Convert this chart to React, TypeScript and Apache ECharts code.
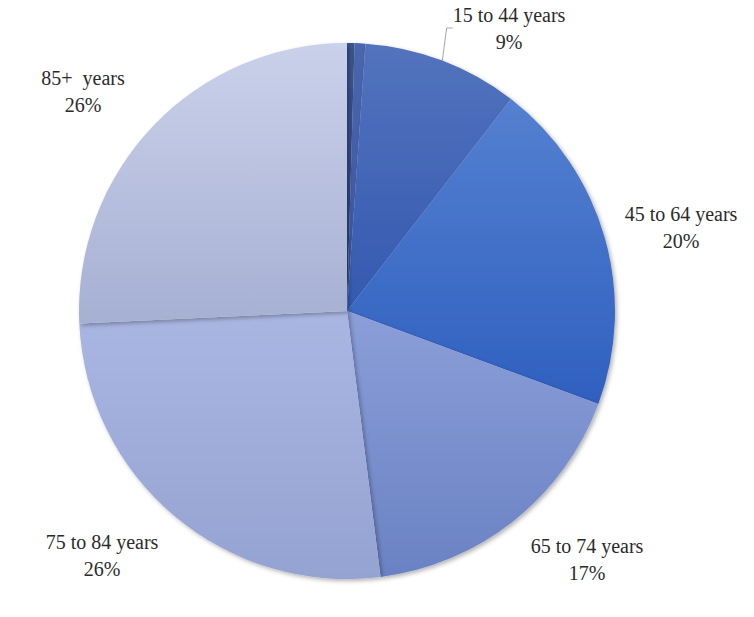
import React, { useEffect, useRef } from "react";
import * as echarts from "echarts";

const categories = ["Under 1 year", "1 to 14 years", "15 to 44 years", "45 to 64 years", "65 to 74 years", "75 to 84 years", "85+  years"];
const values = [0.45, 0.65, 9.4, 20.2, 17.4, 26.3, 25.8];
const showLabel = [false, false, true, true, true, true, true];
const topColors = ["#3d5490", "#4b66ad", "#5373bd", "#5580d0", "#8b9ed9", "#aab6e2", "#cad1ea"];
const bottomColors = ["#2c4282", "#3a569f", "#3459b0", "#2f60c0", "#6a82c3", "#95a3d2", "#a6b0d3"];
// label offsets relative to pie centre
const labelOffsets: [number, number][] = [[0, 0], [0, 0], [162, -283], [334, -84], [240, 248], [-245, 244], [-264, -220]];

export default function App() {
  const ref = useRef<HTMLDivElement>(null);
  useEffect(() => {
    const chart = echarts.init(ref.current!, undefined, { renderer: "svg" });
    const cx = 347, cy = 311;
    chart.setOption({
      animation: false,
      backgroundColor: "#ffffff",
      series: [
        {
          type: "pie",
          center: [cx, cy],
          radius: 268,
          startAngle: 90,
          clockwise: true,
          avoidLabelOverlap: false,
          data: categories.map((name, i) => ({
            name,
            value: values[i],
            itemStyle: {
              color: new echarts.graphic.LinearGradient(0, 0, 0, 1, [
                { offset: 0, color: topColors[i] },
                { offset: 1, color: bottomColors[i] },
              ]),
              shadowBlur: 4,
              shadowOffsetX: 2,
              shadowOffsetY: 2,
              shadowColor: "rgba(0,0,0,0.3)",
            },
            label: { show: showLabel[i] },
            labelLine: { show: i === 2 },
          })),
          label: {
            position: "outside",
            formatter: (p: any) => `${p.name}\n${Math.round(p.percent)}%`,
            fontFamily: "Liberation Serif",
            fontSize: 20,
            lineHeight: 27,
            color: "#2b2b2b",
            align: "center",
          },
          labelLine: {
            show: false,
            length: 10,
            length2: 6,
            lineStyle: { color: "#a6a6a6", width: 1 },
          },
          labelLayout: (p: any) => {
            const o = labelOffsets[p.dataIndex];
            return {
              x: cx + o[0],
              y: cy + o[1],
              align: "center",
              verticalAlign: "middle",
            };
          },
          emphasis: { disabled: true },
        },
      ],
    });
    return () => chart.dispose();
  }, []);
  return (
    <div
      ref={ref}
      style={{ position: "absolute", left: 0, top: 0, width: 754, height: 617 }}
    />
  );
}
